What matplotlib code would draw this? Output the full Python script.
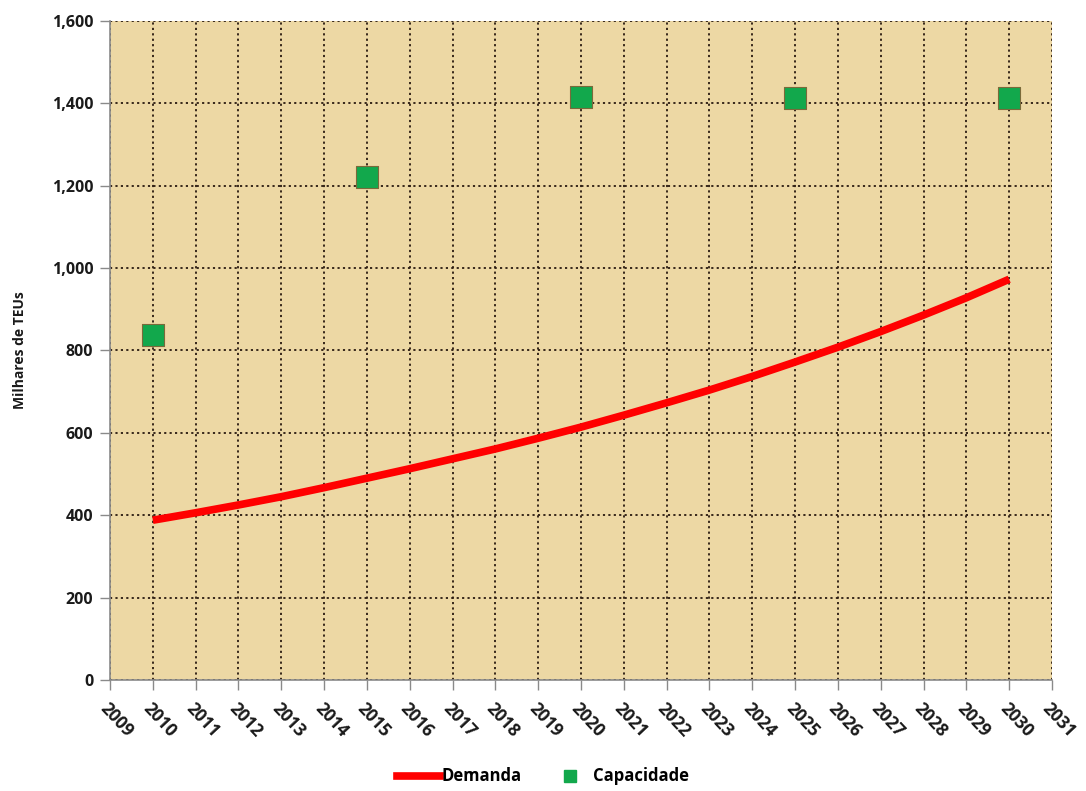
import numpy as np
import matplotlib.pyplot as plt
from matplotlib.ticker import FuncFormatter, MultipleLocator
from matplotlib.lines import Line2D

plt.rcParams['font.family'] = ['Open Sans', 'DejaVu Sans']

# demand projection (thousand TEU) per year
anos_demanda = list(range(2010, 2031))
demanda = [388, 406, 425, 445, 467, 490, 513, 537, 561, 587, 614,
           643, 673, 704, 737, 772, 808, 846, 886, 928, 973]

# terminal capacity checkpoints
anos_capacidade = [2010, 2015, 2020, 2025, 2030]
capacidade = [838, 1221, 1415, 1413, 1413]

fig = plt.figure(figsize=(10.86, 7.91), dpi=100)
ax = fig.add_axes([0.1013, 0.1403, 0.8674, 0.8332])
ax.set_facecolor('#EDD8A4')

ax.plot(anos_demanda, demanda, color='#FF0000', lw=5.5,
        solid_capstyle='butt', zorder=3)
ax.scatter(anos_capacidade, capacidade, marker='s', s=230,
           color='#12A84C', edgecolor='#7A6A3A', linewidth=0.8, zorder=4)

ax.set_xlim(2009, 2031)
ax.set_ylim(0, 1600)
ax.xaxis.set_major_locator(MultipleLocator(1))
ax.yaxis.set_major_locator(MultipleLocator(200))
ax.yaxis.set_major_formatter(FuncFormatter(lambda v, p: f'{int(v):,}'))

ax.grid(True, color='#2A1A10', linestyle=(0, (1.2, 1.8)), linewidth=1.3)
ax.set_axisbelow(True)
for s in ['top', 'right']:
    ax.spines[s].set_visible(False)
for s in ['left', 'bottom']:
    ax.spines[s].set_color('#8A8A8A')
    ax.spines[s].set_linewidth(1.2)

ax.tick_params(axis='both', direction='out', length=7, color='#8A8A8A',
               width=1.0, labelsize=11.5)
ax.tick_params(axis='y', pad=5)
ax.tick_params(axis='x', labelsize=12.5, pad=7)
for lbl in ax.get_xticklabels():
    lbl.set_rotation(-47)
    lbl.set_ha('left')
    lbl.set_va('top')
    lbl.set_rotation_mode('anchor')
    lbl.set_fontweight('bold')
    lbl.set_color('#1A1A1A')
for lbl in ax.get_yticklabels():
    lbl.set_fontweight('bold')
    lbl.set_color('#1A1A1A')

ax.set_ylabel('Milhares de TEUs', fontsize=10, fontweight='bold',
              color='#1A1A1A', labelpad=18)

handles = [
    Line2D([], [], color='#FF0000', lw=5.5, label='Demanda'),
    Line2D([], [], color='#12A84C', marker='s', linestyle='none',
           markersize=9, label='Capacidade'),
]
leg = fig.legend(handles=handles, loc='lower center', ncol=2,
                 bbox_to_anchor=(0.5, -0.012), frameon=False,
                 prop={'weight': 'bold', 'size': 12}, handlelength=2.6,
                 handletextpad=0.1, columnspacing=1.6)

fig.savefig('out.png', dpi=100)
